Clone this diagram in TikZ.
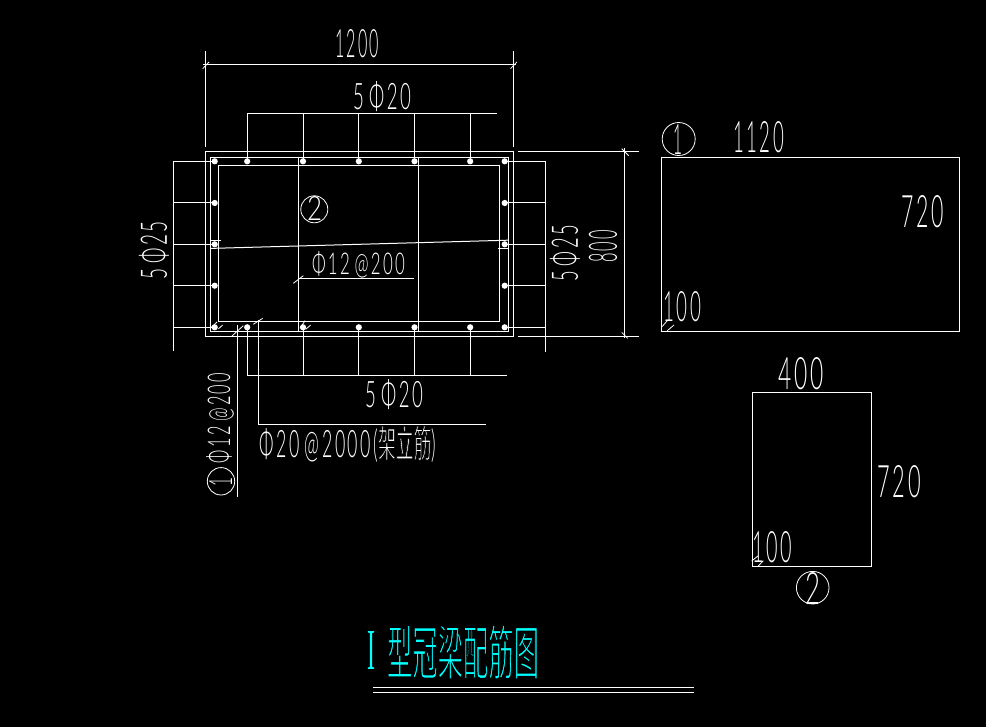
\documentclass[tikz,border=0pt]{standalone}
\usepackage{fontspec}
\newfontfamily\cad[LetterSpace=14]{Lato Light}
\newfontfamily\cjkbase{Noto Sans CJK SC}
\newfontfamily\serifcad{Liberation Serif}
% thin the CJK glyphs: stroke their outlines in the black of the background
\newcommand\thincjk[2]{{\cjkbase\special{pdf:code 2 Tr 0 0 0 RG #1 w}#2\special{pdf:code 0 Tr}}}
\newcommand\gap{\hspace{0.28em}}
\tikzset{
  ln/.style={draw=white,line width=1pt},
  fine/.style={draw=white,line width=0.8pt},
  bar/.style={circle,fill=white,inner sep=0pt,minimum size=6.2pt},
  txt/.style={inner sep=0pt,text=white},
  ttl/.style={inner sep=0pt,text=titlecyan},
  ring/.style={draw=white,line width=0.8pt,circle,inner sep=0pt},
}
\definecolor{titlecyan}{RGB}{0,255,255}
\newcommand\lab[6]{%
  \pgfmathsetmacro\cxx{(#2+#4)/2}\pgfmathsetmacro\cyy{(#3+#5)/2}%
  \pgfmathsetmacro\wdd{#4-#2}\pgfmathsetmacro\htt{#5-#3}%
  \node[txt] (#1) at (\cxx,\cyy) {\resizebox{\wdd pt}{\htt pt}{\cad #6}};}
\newcommand\rlab[6]{%
  \pgfmathsetmacro\cxx{(#2+#4)/2}\pgfmathsetmacro\cyy{(#3+#5)/2}%
  \pgfmathsetmacro\wdd{#5-#3}\pgfmathsetmacro\htt{#4-#2}%
  \node[txt,rotate=90] (#1) at (\cxx,\cyy) {\resizebox{\wdd pt}{\htt pt}{\cad #6}};}
\begin{document}
\begin{tikzpicture}[x=1pt,y=-1pt]
\useasboundingbox (0,0) rectangle (986,727);
\fill[black] (0,0) rectangle (986,727);
% title and the label with Chinese first: their black outline must not cut lines
\lab{erect}{260}{428}{436}{460}{Φ20\gap @2000(\thincjk{0.3}{架立筋}\cad )}
\node[ttl] (titleA) at (371.5,650) {\resizebox{8pt}{38pt}{\serifcad I}};
\node[ttl] (titleB) at (463,652) {\resizebox{152pt}{50pt}{\thincjk{0.28}{型冠梁配筋图}}};
% section rectangles
\draw[ln] (205.3,151.3) rectangle (513.3,336.3);
\draw[ln] (210.7,157.3) rectangle (508.7,331.3);
\draw[ln] (218.7,165.3) rectangle (499.7,321.3);
\draw[ln] (298.5,157.3) -- (298.5,331.3);
\draw[ln] (418.7,157.3) -- (418.7,331.3);
\draw[ln] (211,248.4) -- (508,240.2);
\draw[fine] (211,240.6) -- (221,240.6);
\draw[fine] (498,248.3) -- (508,248.3);
% bars
\foreach \n/\x in {1/214.7,2/247.2,3/303,4/358.8,5/414.5,6/470.2,7/504.7}{
  \node[bar] (t\n) at (\x,161.3) {};
  \node[bar] (b\n) at (\x,327.3) {};
}
\foreach \n/\y in {2/203,3/244.3,4/285.7}{
  \node[bar] (l\n) at (214.7,\y) {};
  \node[bar] (r\n) at (504.7,\y) {};
}
% top and bottom leaders
\coordinate (topend) at (496.7,113.3);
\coordinate (botend) at (506.7,375.3);
\draw[ln] (t2.center) |- (topend);
\draw[ln] (b2.center) |- (botend);
\foreach \n in {3,4,5,6}{
  \draw[ln] (t\n.center) -- (t\n.center |- topend);
  \draw[ln] (b\n.center) -- (b\n.center |- botend);
}
% side leaders
\coordinate (lefttop) at (173.3,161.3);
\coordinate (leftbot) at (173.3,351);
\coordinate (righttop) at (545.7,161.3);
\coordinate (rightbot) at (545.7,351.7);
\draw[ln] (lefttop) -- (leftbot);
\draw[ln] (righttop) -- (rightbot);
\draw[ln] (t1.center) -- (lefttop);
\draw[ln] (t7.center) -- (righttop);
\draw[ln] (b1.center) -- (b1.center -| lefttop);
\draw[ln] (b7.center) -- (b7.center -| righttop);
\foreach \n in {2,3,4}{
  \draw[ln] (l\n.center) -- (l\n.center -| lefttop);
  \draw[ln] (r\n.center) -- (r\n.center -| righttop);
}
% dimension 1200
\draw[ln] (205.3,51) -- (205.3,146.7);
\draw[ln] (513.3,51) -- (513.3,146.7);
\draw[ln] (203,65) -- (516,65);
\draw[fine] (202.7,68.7) -- (209,62);
\draw[fine] (510.5,68.7) -- (516.8,62);
% dimension 800
\draw[ln] (518,151.3) -- (639,151.3);
\draw[ln] (518,336.3) -- (639,336.3);
\draw[ln] (624.7,148.5) -- (624.7,338.5);
\draw[fine] (621.7,148.7) -- (628.7,155.7);
\draw[fine] (621.7,332.3) -- (627.7,338.3);
% other leaders
\draw[ln] (298.7,278.3) -- (414,278.3);
\draw[fine] (293.3,283.3) -- (303.3,275.7);
\draw[ln] (258.3,320) -- (258.3,424.3) -- (486,424.3);
\draw[fine] (253.3,324.3) -- (262.7,318.3);
\draw[ln] (237.3,325) -- (237.3,496.7);
\draw[fine] (232,336) -- (243.3,325.7);
\draw[fine] (210.7,328) -- (217,322);
\draw[fine] (218.3,329) -- (222.7,325);
\draw[fine] (300,328.3) -- (305,320.7);
\draw[fine] (305.7,329.3) -- (310.7,325);
% section labels
\lab{dimA}{335}{30}{379}{58}{1200}
\lab{topbars}{353}{83}{411}{111}{5\gap Φ20}
\rlab{leftbars}{140}{221}{168}{280}{5\gap Φ25}
\rlab{rightbars}{551}{225}{579}{282}{5\gap Φ25}
\rlab{dimB}{589}{230}{617}{263}{800}
\lab{stirrup}{312}{253}{405}{276}{Φ12\gap @200}
\lab{botbars}{365}{381}{423}{409}{5\gap Φ20}
\rlab{outer}{208}{373}{232}{463}{Φ12\gap @200}
% circled marks
\node[ring,minimum size=27pt] (cB) at (314.3,209.3) {};
\lab{cBn}{307}{197}{322}{221}{2}
\node[ring,minimum size=27.4pt] (cA) at (221,481.3) {};
\rlab{cAn}{209}{477}{232}{486}{1}
% bar shape 1
\draw[ln] (661.7,157.3) rectangle (959.7,331.3);
\node[ring,minimum size=33pt] (cC) at (678.7,139) {};
\lab{cCn}{673}{124}{682}{154}{1}
\lab{lenA}{733}{122}{784}{153}{1120}
\lab{lenB}{901}{196}{944}{228}{720}
\lab{lenC}{663}{292}{701}{322}{100}
\draw[fine] (662,326.7) -- (667.3,320.7);
\draw[fine] (667.3,330.7) -- (674,325);
% bar shape 2
\draw[ln] (752.3,392.3) rectangle (871.7,566.3);
\node[ring,minimum size=32.6pt] (cD) at (812.7,587.7) {};
\lab{cDn}{805}{572}{820}{604}{2}
\lab{lenD}{778}{358}{824}{390}{400}
\lab{lenE}{877}{466}{921}{498}{720}
\lab{lenF}{752}{532}{792}{563}{100}
\draw[fine] (751.7,561) -- (758.3,555.7);
\draw[fine] (758.3,566) -- (763.3,560.7);
% title underlines
\coordinate (ulA) at (373,687.3);
\coordinate (ulB) at (693.7,687.3);
\coordinate (ulC) at (373,692.3);
\coordinate (ulD) at (693.7,692.3);
\draw[ln] (ulA) -- (ulB);
\draw[ln] (ulC) -- (ulD);
\end{tikzpicture}
\end{document}
